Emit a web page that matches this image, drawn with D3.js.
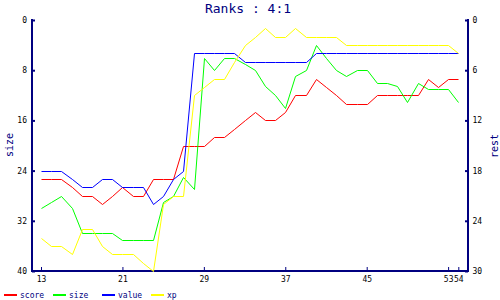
<!DOCTYPE html>
<html>
<head>
<meta charset="utf-8">
<script src="https://cdn.jsdelivr.net/npm/d3@7/dist/d3.min.js"></script>
<style>
  body { margin: 0; background: #fff; }
  svg { display: block; }
  text { font-family: 'DejaVu Sans Mono', monospace; }
</style>
</head>
<body>
<svg id="chart" width="500" height="300"></svg>
<script>
// rounds along the bottom
const ROUNDS = [13, 14, 15, 16, 17, 18, 19, 20, 21, 22, 23, 24, 25, 26, 27, 28, 29, 30, 31, 32, 33,
  34, 35, 36, 37, 38, 39, 40, 41, 42, 43, 44, 45, 46, 47, 48, 49, 50, 51, 52, 53, 54]
const X_TICKS = [13, 21, 29, 37, 45, 53, 54]
const SIZE_TICKS = [0, 8, 16, 24, 32, 40]
const REST_TICKS = [0, 6, 12, 18, 24, 30]

// size is read on the left axis, the rest on the right one
const SCORE = [19, 19, 19, 20, 21, 21, 22, 21, 20, 21, 21, 19, 19, 19, 15, 15, 15, 14, 14, 13, 12,
  11, 12, 12, 11, 9, 9, 7, 8, 9, 10, 10, 10, 9, 9, 9, 9, 9, 7, 8, 7, 7]
const SIZE = [30, 29, 28, 30, 34, 34, 34, 34, 35, 35, 35, 35, 29, 28, 25, 27, 6, 8, 6, 6, 7,
  8, 10.5, 12, 14, 9, 8, 4, 6, 8, 9, 8, 8, 10, 10, 10.5, 13, 10, 11, 11, 11, 13]
const VALUE = [18, 18, 18, 19, 20, 20, 19, 19, 20, 20, 20, 22, 21, 19, 18, 4, 4, 4, 4, 4, 5,
  5, 5, 5, 5, 5, 5, 4, 4, 4, 4, 4, 4, 4, 4, 4, 4, 4, 4, 4, 4, 4]
const XP = [26, 27, 27, 28, 25, 25, 27, 28, 28, 28, 29, 30, 22, 21, 21, 9, 8, 7, 7, 5, 3,
  2, 1, 2, 2, 1, 2, 2, 2, 2, 3, 3, 3, 3, 3, 3, 3, 3, 3, 3, 3, 4]

const NAVY = '#000080'
const LEFT = 32
const RIGHT = 468
const TOP = 20
const BOTTOM = 271

var svg = d3.select('#chart')

var x = d3.scaleLinear().domain([13, 54]).range([41, 458.3])
var ySize = d3.scaleLinear().domain([0, 40]).range([TOP, BOTTOM])
var yRest = d3.scaleLinear().domain([0, 30]).range([TOP, BOTTOM])

var series = [
  { name: 'score', color: '#ff0000', values: SCORE, y: yRest },
  { name: 'size', color: '#00ff00', values: SIZE, y: ySize },
  { name: 'value', color: '#0000ff', values: VALUE, y: yRest },
  { name: 'xp', color: '#ffff00', values: XP, y: yRest }
]

svg.append('text')
  .text('Ranks : 4:1')
  .attr('x', 248)
  .attr('y', 13)
  .attr('text-anchor', 'middle')
  .attr('fill', NAVY)
  .style('font-size', '13px')

// axes
function styleAxis (g, tickWidth) {
  g.select('.domain').remove()
  g.selectAll('.tick line').attr('stroke', NAVY).attr('stroke-width', tickWidth)
  g.selectAll('.tick text').attr('fill', '#000').style('font-size', '8px')
    .style('font-family', "'DejaVu Sans Mono', monospace")
}

svg.append('g')
  .attr('transform', 'translate(' + LEFT + ',0)')
  .call(d3.axisLeft(ySize).tickValues(SIZE_TICKS).tickSize(-3).tickPadding(5))
  .call(styleAxis, 2)

svg.append('g')
  .attr('transform', 'translate(' + RIGHT + ',0)')
  .call(d3.axisRight(yRest).tickValues(REST_TICKS).tickSize(-3).tickPadding(4.5))
  .call(styleAxis, 2)

svg.append('g')
  .attr('transform', 'translate(0,' + BOTTOM + ')')
  .call(d3.axisBottom(x).tickValues(X_TICKS).tickFormat(d3.format('d')).tickSize(-4).tickPadding(5.5))
  .call(styleAxis, 1)

var frame = svg.append('g').attr('stroke', NAVY).attr('stroke-width', 2)
frame.append('line').attr('x1', LEFT).attr('y1', TOP - 1).attr('x2', LEFT).attr('y2', BOTTOM)
frame.append('line').attr('x1', RIGHT).attr('y1', TOP - 1).attr('x2', RIGHT).attr('y2', BOTTOM)
frame.append('line').attr('x1', LEFT - 1).attr('y1', BOTTOM).attr('x2', RIGHT + 1).attr('y2', BOTTOM)

svg.append('text')
  .text('size')
  .attr('transform', 'translate(12.5,145) rotate(-90)')
  .attr('text-anchor', 'middle')
  .attr('fill', NAVY)
  .style('font-size', '10px')

svg.append('text')
  .text('rest')
  .attr('transform', 'translate(497.5,146) rotate(-90)')
  .attr('text-anchor', 'middle')
  .attr('fill', NAVY)
  .style('font-size', '10px')

// lines, snapped to pixel centres so flat runs stay one pixel thick
series.forEach(function (s) {
  var line = d3.line()
    .x(function (d, i) { return Math.round(x(ROUNDS[i])) + 0.5 })
    .y(function (d) { return Math.round(s.y(d)) + 0.5 })

  svg.append('path')
    .datum(s.values)
    .attr('d', line)
    .attr('fill', 'none')
    .attr('stroke', s.color)
    .attr('stroke-width', 1)
})

// legend
var legend = svg.selectAll('.legend')
  .data(series)
  .enter().append('g')
  .attr('class', 'legend')
  .attr('transform', function (s, i) { return 'translate(' + (4 + i * 49) + ',295)' })

legend.append('line')
  .attr('x1', 0).attr('x2', 13)
  .attr('stroke', function (s) { return s.color })
  .attr('stroke-width', 2)

legend.append('text')
  .text(function (s) { return s.name })
  .attr('x', 16)
  .attr('y', 2.5)
  .attr('fill', NAVY)
  .style('font-size', '8px')
</script>
</body>
</html>
